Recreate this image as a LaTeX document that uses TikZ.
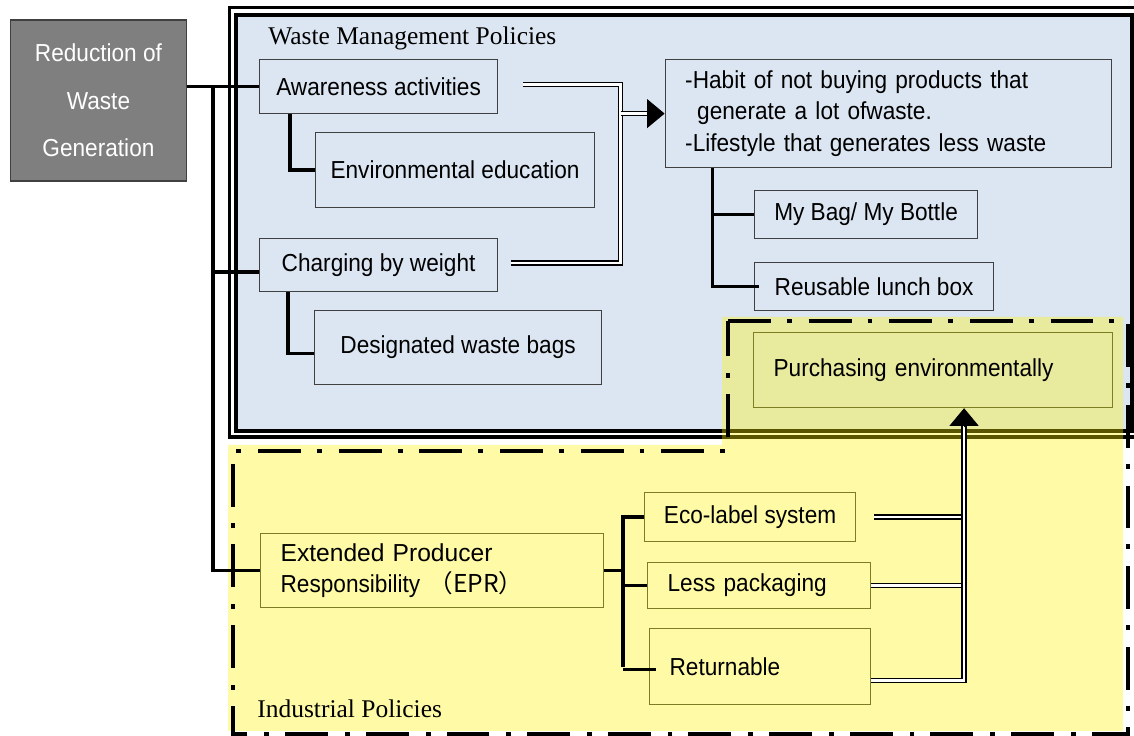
\documentclass[tikz,border=0pt]{standalone}
\usepackage{fontspec}
\setmainfont{Liberation Sans}
\newfontfamily\boxfont[FakeStretch=0.92]{Liberation Sans}
\newfontfamily\eprfont{Liberation Sans}
\newfontfamily\labelfont{Liberation Serif}
\newfontfamily\cjk{Noto Sans CJK JP}
\usetikzlibrary{arrows.meta,calc}
\definecolor{bluebg}{RGB}{220,230,242}
\definecolor{boxline}{RGB}{64,64,64}
\definecolor{oliveline}{RGB}{125,125,36}
\definecolor{greybox}{RGB}{127,127,127}
\begin{document}
\begin{tikzpicture}[x=0.02cm,y=-0.02cm,
  box/.style={draw=boxline,fill=bluebg,line width=0.7pt,anchor=north west,inner sep=2pt,align=center,font=\boxfont\fontsize{14}{18}\selectfont},
  ybox/.style={box,draw=oliveline,fill=none},
  padl/.style={align=left,inner xsep=0.4cm},
  frame/.style={line width=1.8pt},
  tree/.style={line width=2pt},
  dbl/.style={draw=black,double=white,double distance=1.4pt,line width=0.8pt},
  tip/.style={-{Triangle[length=10pt,width=16.5pt]},line width=0.5pt},
  policyframe/.style={line width=2.7pt,dash pattern=on 24.4pt off 9.1pt on 2.8pt off 9.6pt},
  policylabel/.style={anchor=base west,inner sep=0pt,font=\labelfont\fontsize{14.5}{16}\selectfont}]
\useasboundingbox (0,0) rectangle (1134,736);
\clip (0,0) rectangle (1134,736);
\fill[bluebg] (236,15) rectangle (1132,431);
\draw[frame] (229.5,7.5) rectangle (1140,437);
\draw[frame] (236,15) rectangle (1132,431);
\node[box,fill=greybox,draw=boxline,line width=1pt,text=white,font=\boxfont\fontsize{14}{27}\selectfont,minimum width=3.52cm,minimum height=3.22cm] (reduce) at (9.6,19) {Reduction of\\Waste\\Generation};
\node[box,minimum width=4.76cm,minimum height=1.08cm] (aware) at (259,59) {Awareness activities};
\node[box,minimum width=5.58cm,minimum height=1.5cm] (env) at (315,132) {Environmental education};
\node[box,minimum width=4.76cm,minimum height=1.06cm] (charge) at (259,238) {Charging by weight};
\node[box,minimum width=5.74cm,minimum height=1.48cm] (desig) at (314,310) {Designated waste bags};
\node[box,padl,text width=8.12cm,minimum height=2.16cm,font=\boxfont\fontsize{14}{17.9}\selectfont] (habit) at (664.6,59) {-Habit of not buying products that\\\hspace*{0.24cm}generate a lot ofwaste.\\-Lifestyle that generates less waste};
\node[box,minimum width=4.46cm,minimum height=0.96cm] (mybag) at (754,190) {My Bag/ My Bottle};
\node[box,minimum width=4.78cm,minimum height=0.96cm] (lunch) at (754,262) {Reusable lunch box};
\fill[yellow,opacity=0.35] (722,317) -- (1123,317) -- (1123,731) -- (228,731) -- (228,445) -- (722,445) -- cycle;
\node[ybox,padl,text width=6.38cm,minimum height=1.5cm] (purch) at (753,332) {Purchasing environmentally};
\node[ybox,padl,text width=6.06cm,minimum height=1.48cm,font=\boxfont\fontsize{14}{18.1}\selectfont] (epr) at (260,533) {{\eprfont Extended Producer}\\Responsibility {\cjk （EPR）}};
\node[ybox,minimum width=4.22cm,minimum height=0.98cm] (eco) at (644,492) {Eco-label system};
\node[ybox,padl,text width=3.66cm,minimum height=0.92cm] (less) at (647,562) {Less packaging};
\node[ybox,padl,text width=3.62cm,minimum height=1.52cm] (ret) at (649,628) {Returnable};
\draw[policyframe] (728,321) -- (1128,321) -- (1128,734) -- (233,734) -- (233,451) -- (728,451) -- cycle;
\coordinate (trunk) at (213,86);
\draw[tree] (reduce.east |- aware.west) -- (aware.west);
\draw[tree] (trunk) |- (epr.west);
\draw[tree] (trunk |- charge.west) ++(0,7) -- ($(charge.west)+(0,7)$);
\draw[tree] ($(aware.south west)+(31,0)$) |- (env.west);
\draw[tree] ($(charge.south west)+(29,0)$) |- ($(desig.west)+(0,6)$);
\draw[tree] ($(habit.south west)+(48,0)$) |- (mybag.west);
\draw[tree] ($(habit.south west)+(48,0)$) |- ($(lunch.west)+(5,0)$);
\coordinate (ej) at ($(epr.east)+(19,0)$);
\draw[tree] (epr.east) -- (ej);
\draw[tree] (eco.west) -| (ej |- ret.west) ++(0,3) -- ($(ret.west)+(7,3)$);
\draw[tree] (ej |- less.west) -- (less.west);
\coordinate (mj) at ($(habit.west)+(-44,0)$);
\draw[dbl] ($(aware.east)+(25,-2)$) -| (mj) |- ($(charge.east)+(13,-2)$);
\draw[dbl] (mj) -- ($(habit.west)+(-18,0)$) coordinate (ta);
\draw[tip] (ta) -- (habit.west);
\coordinate (pj) at ($(purch.south)+(31,0)$);
\draw[dbl] ($(eco.east)+(18,0)$) -- (eco.east -| pj);
\draw[dbl] (less.east) -- (less.east -| pj);
\draw[dbl] ($(ret.east)+(0,14)$) -| ($(pj)+(0,18)$) coordinate (tb);
\draw[tip] (tb) -- (pj);
\node[policylabel] (wmp) at (268,45) {Waste Management Policies};
\node[policylabel] (ip) at (257,718) {Industrial Policies};
\end{tikzpicture}
\end{document}
